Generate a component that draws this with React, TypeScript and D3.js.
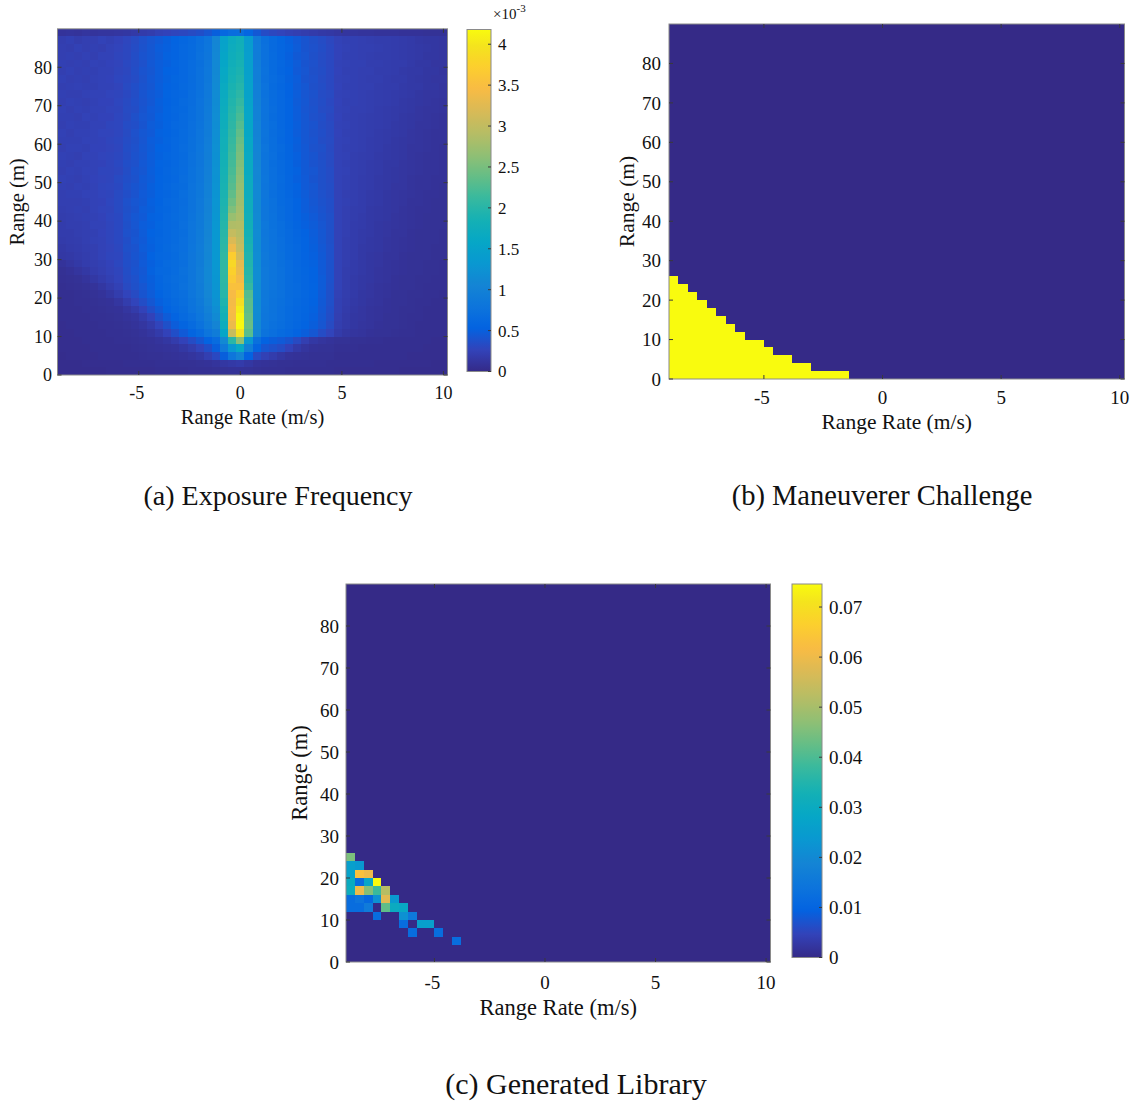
import React from 'react';
import * as d3 from 'd3';

// ---------------- data ----------------
// Range-rate bins: 0.4 m/s wide from -9 to 10.2 (48 bins). Range bins: 2 m wide from 0 to 90 (45 bins).
const RR_MIN = -9;
const RR_STEP = 0.4;
const RR_BINS = 48;
const R_STEP = 2;
const R_BINS = 45;

// (a) Exposure frequency, units of 1e-5, rows listed from the top (88-90 m) down to the bottom (0-2 m)
const exposureRows: number[][] = [
  [10,11,10,12,11,12,12,13,14,16,18,20, 24,26,28,30,33,36,42,50, 60,68,70,58,44, 34,30,27,24,22,20,18,16,15, 13,12,12,11,11,10,10,10,9,9,9,8,8,8],
  [21,23,20,22,22,25,23,26,29,33,38,42, 46,50,54,59,64,71,80,106, 150,170,178,140,90, 72,64,57,51,46,41,37,34,30, 25,23,23,22,21,20,20,19,18,17,15,14,14,13],
  [22,21,24,22,23,22,25,27,30,34,39,43, 48,51,55,60,65,72,81,108, 153,173,181,142,91, 73,64,58,52,47,41,38,35,31, 26,24,23,22,22,21,20,19,18,17,16,15,14,13],
  [22,23,22,24,22,25,25,28,30,35,40,43, 47,52,55,61,65,73,82,109, 156,176,184,143,92, 74,65,58,51,45,42,37,34,31, 26,23,23,22,21,20,20,19,18,17,16,14,14,13],
  [23,22,23,22,25,24,26,27,31,34,38,44, 48,51,56,60,66,72,83,110, 158,179,187,145,93, 73,65,59,52,47,41,38,34,31, 25,24,23,23,21,21,20,19,19,17,15,15,13,13],
  [22,24,22,23,23,25,25,28,30,35,40,43, 48,53,55,61,66,73,84,111, 161,182,190,147,94, 75,65,58,53,46,42,37,35,31, 26,23,23,22,22,20,20,19,17,16,16,14,14,12],
  [24,22,23,22,24,25,26,29,31,34,39,44, 48,52,57,60,67,73,85,112, 163,185,194,148,95, 74,66,60,52,48,41,38,34,31, 25,24,23,22,21,21,19,18,18,16,15,14,13,13],
  [22,23,24,23,23,25,25,27,32,36,40,43, 49,53,56,62,66,74,86,113, 166,189,198,150,96, 76,65,59,53,47,43,37,35,31, 26,23,23,22,22,20,19,19,17,16,16,14,14,12],
  [23,22,22,24,25,25,27,28,31,35,41,45, 48,54,58,61,68,75,87,114, 168,192,203,151,97, 75,67,60,53,48,42,39,34,32, 25,24,23,22,21,20,19,18,17,16,14,13,13,12],
  [22,24,23,22,24,26,26,29,32,36,40,44, 50,53,57,63,68,76,88,115, 170,195,209,153,98, 77,66,60,54,47,43,38,35,31, 26,23,23,22,21,20,19,18,16,15,14,13,12,11],
  [24,22,24,23,25,25,27,28,33,35,41,46, 49,54,59,62,69,77,89,116, 172,198,215,155,99, 76,68,60,54,48,42,39,34,32, 25,24,22,22,21,19,18,17,16,15,13,12,12,11],
  [23,23,22,25,24,26,26,29,32,37,42,45, 51,54,58,64,70,77,90,117, 174,201,222,157,100, 77,67,61,54,48,43,38,36,31, 26,23,22,21,20,19,18,17,15,14,13,12,11,10],
  [22,24,23,23,25,25,28,29,34,36,41,47, 50,55,60,63,71,78,91,118, 176,204,229,158,101, 76,69,60,54,49,43,40,35,32, 25,24,22,21,20,19,18,16,15,14,12,12,11,10],
  [24,22,24,24,25,27,27,29,33,38,43,46, 52,54,59,65,71,79,92,119, 178,207,236,160,102, 78,68,62,55,48,43,39,36,32, 26,23,22,21,20,18,17,16,15,13,12,11,10,10],
  [23,23,23,25,25,26,28,30,34,37,42,48, 51,56,60,65,72,80,93,120, 180,210,242,161,103, 77,70,61,55,50,43,40,35,33, 25,24,22,21,19,18,17,15,14,13,12,11,10,10],
  [22,24,24,23,26,26,27,29,35,38,43,47, 53,55,60,66,72,81,94,121, 181,213,247,163,104, 79,69,63,56,49,44,39,37,32, 25,23,22,21,19,18,16,15,14,12,12,11,10,9],
  [24,23,22,25,25,27,28,30,34,39,42,48, 52,57,61,65,73,82,95,122, 183,216,251,164,105, 78,71,62,56,51,44,41,36,33, 25,24,21,20,19,17,16,15,14,12,11,10,10,9],
  [23,22,24,24,25,26,28,31,36,38,44,48, 54,56,60,67,74,82,96,123, 184,219,255,166,106, 80,70,64,57,50,45,40,37,33, 25,23,21,20,18,17,15,15,13,12,11,10,10,9],
  [22,24,23,25,25,28,28,30,35,40,43,49, 53,58,62,66,75,83,97,124, 186,222,259,167,107, 79,71,63,57,52,45,42,37,34, 25,24,21,20,18,17,15,14,13,12,11,10,10,9],
  [24,23,22,24,26,27,28,32,36,39,45,48, 54,57,61,68,75,83,98,125, 187,226,263,169,108, 81,71,65,58,51,46,41,37,34, 25,23,21,19,18,16,15,14,13,11,10,10,9,9],
  [23,22,24,23,25,28,29,31,37,41,44,50, 54,59,63,67,76,84,99,126, 188,230,267,171,109, 80,72,64,58,53,46,43,37,35, 25,23,21,19,18,16,15,13,13,11,10,10,9,8],
  [22,23,23,25,25,27,28,32,36,40,46,49, 55,58,62,69,77,85,100,127, 190,236,271,173,110, 82,71,65,59,52,47,42,38,35, 25,22,21,19,17,16,14,13,12,11,10,9,9,8],
  [22,22,22,23,25,26,29,32,38,42,45,51, 54,60,64,68,77,86,101,128, 192,244,274,175,111, 81,73,65,60,54,48,43,39,36, 25,23,21,19,17,16,14,13,12,10,10,9,8,8],
  [21,22,23,22,25,27,28,32,37,41,47,50, 56,59,63,70,77,87,102,129, 194,254,278,176,111, 82,73,67,60,54,48,44,40,36, 25,22,20,19,16,15,14,13,11,10,9,9,8,8],
  [20,21,22,23,24,26,29,31,38,43,46,52, 55,60,65,69,78,88,103,130, 196,270,282,178,112, 82,75,67,61,55,50,46,41,37, 25,22,20,18,16,15,14,12,11,10,9,8,8,8],
  [19,21,21,22,25,25,28,31,37,42,48,51, 57,60,64,71,79,88,104,131, 198,286,288,181,113, 84,75,69,62,56,51,47,42,37, 25,22,19,18,16,14,13,12,11,10,9,8,8,8],
  [19,19,21,22,23,26,28,31,38,41,47,53, 56,61,65,70,80,89,105,132, 200,302,292,184,114, 83,76,69,63,58,53,48,43,37, 25,22,19,17,16,14,13,11,11,9,8,8,8,7],
  [18,19,20,22,24,25,28,31,36,42,46,52, 58,60,65,71,80,90,106,132, 202,320,298,187,115, 85,76,71,64,59,54,49,43,37, 25,21,19,17,15,14,12,11,10,9,8,8,8,7],
  [16,18,19,21,22,25,27,30,37,40,47,51, 57,62,66,71,81,91,107,132, 204,337,304,190,115, 84,78,71,65,60,54,50,44,38, 25,21,19,16,15,14,12,11,10,9,8,8,7,7],
  [15,16,18,20,22,25,28,29,36,41,45,53, 59,61,65,72,82,92,108,132, 206,370,314,193,116, 86,78,72,65,60,55,51,45,38, 25,21,19,16,14,13,11,11,9,8,8,8,7,7],
  [10,13,16,19,21,23,26,30,36,39,46,51, 58,63,67,71,82,92,109,132, 206,384,330,196,116, 85,79,72,66,61,56,52,46,39, 25,21,18,16,14,13,11,10,9,8,8,7,7,6],
  [7,9,12,15,19,22,25,28,35,40,44,52, 60,62,66,73,82,93,110,131, 206,374,334,199,117, 87,79,73,66,62,57,53,46,39, 25,20,18,16,14,12,11,10,9,8,8,7,7,6],
  [6,7,8,11,15,19,23,27,34,38,45,50, 58,64,68,72,82,93,110,130, 205,364,342,202,117, 86,80,73,67,62,58,53,47,39, 25,20,17,15,14,12,11,9,8,8,7,7,6,6],
  [5,6,7,8,10,14,19,24,32,37,42,49, 57,62,67,73,82,92,109,129, 203,354,352,210,116, 87,79,74,67,63,58,54,47,38, 25,20,17,15,13,11,10,9,8,8,7,6,6,6],
  [5,5,6,7,8,10,14,20,27,33,41,47, 54,60,66,71,81,91,107,127, 199,344,370,229,116, 85,78,73,67,63,59,54,46,37, 24,20,17,14,13,11,10,8,8,7,7,6,6,5],
  [5,5,6,6,7,8,9,13,20,27,35,43, 51,58,64,70,78,88,104,124, 193,342,390,233,115, 84,77,72,66,62,58,53,45,37, 23,19,16,14,12,11,9,8,8,7,6,6,5,5],
  [5,5,5,6,6,7,8,9,13,18,26,36, 45,54,60,67,76,85,100,119, 187,344,404,235,114, 83,77,71,65,61,57,52,44,36, 23,18,15,13,11,10,9,8,7,7,6,5,5,5],
  [5,5,5,5,6,6,7,8,10,12,18,26, 37,47,55,63,71,81,95,113, 181,342,414,239,113, 82,76,71,65,60,56,51,43,35, 22,17,14,13,11,10,8,8,7,6,6,5,5,5],
  [4,5,5,5,5,6,6,7,8,10,13,18, 27,37,48,56,65,75,89,105, 173,334,416,241,111, 81,74,69,63,59,54,49,42,33, 21,17,14,12,11,9,8,8,7,6,5,5,5,5],
  [4,4,5,5,5,5,6,6,7,8,10,13, 18,26,36,46,56,65,79,92, 158,304,394,231,106, 77,71,65,60,55,49,43,34,27, 18,14,12,11,9,8,8,7,6,6,5,5,5,5],
  [4,4,4,5,5,5,5,6,6,7,8,9, 11,14,19,26,34,43,54,66, 112,202,262,132,72, 53,49,46,41,32,22,15,12,10, 8,8,7,7,6,6,5,5,5,5,5,5,4,4],
  [4,4,4,4,5,5,5,5,5,6,7,8, 9,10,11,15,20,27,36,50, 88,132,162,96,56, 42,38,34,26,17,12,9,8,8, 6,6,6,5,5,5,5,5,5,5,5,4,4,4],
  [3,4,4,4,4,5,5,5,5,5,6,7, 7,8,9,10,12,15,22,31, 50,82,102,53,32, 24,19,14,10,9,8,7,7,7, 5,5,5,5,5,5,5,5,5,4,4,4,4,4],
  [3,3,3,4,4,4,4,4,5,5,5,5, 6,6,6,7,7,8,9,11, 14,16,18,14,10, 9,8,7,7,6,6,6,6,5, 5,5,5,5,5,4,4,4,4,4,4,4,3,3],
  [3,3,3,3,3,3,4,4,4,4,4,4, 5,5,5,5,6,6,6,7, 8,9,9,8,7, 6,6,6,5,5,5,5,5,5, 4,4,4,4,4,4,4,4,3,3,3,3,3,3],
];
const EXPOSURE_UNIT = 1e-5;
const EXPOSURE_MAX = 4.18e-3;

// (b) Maneuverer challenge: number of 2 m range bins flagged (value 1) per range-rate bin, from -9 m/s
const challengeHeights = [13, 12, 11, 10, 9, 8, 7, 6, 5, 5, 4, 3, 3, 2, 2, 1, 1, 1, 1];

// (c) Generated library: non-zero cells (range-rate bin index, range bin index, probability)
const libraryRR = [0, 0, 1, 0, 1, 2, 0, 1, 2, 3, 0, 1, 2, 3, 4, 0, 1, 2, 3, 4, 5, 0, 1, 2, 4, 5, 6, 3, 6, 7, 6, 8, 9, 7, 10, 12];
const libraryR = [12, 11, 11, 10, 10, 10, 9, 9, 9, 9, 8, 8, 8, 8, 8, 7, 7, 7, 7, 7, 7, 6, 6, 6, 6, 6, 6, 5, 5, 5, 4, 4, 4, 3, 3, 2];
const libraryP = [0.045, 0.026, 0.024, 0.027, 0.063, 0.060, 0.030, 0.012, 0.028, 0.0745, 0.031, 0.060, 0.046, 0.038, 0.052,
  0.012, 0.014, 0.011, 0.022, 0.058, 0.024, 0.012, 0.012, 0.016, 0.042, 0.030, 0.029, 0.012, 0.022, 0.015, 0.012, 0.026, 0.026, 0.012, 0.012, 0.012];
const LIBRARY_MAX = 0.0746;

// ticks
const xTicks = [-5, 0, 5, 10];
const yTicks = [0, 10, 20, 30, 40, 50, 60, 70, 80];
const cbTicksA = [0, 0.5, 1, 1.5, 2, 2.5, 3, 3.5, 4];
const cbTicksC = [0, 0.01, 0.02, 0.03, 0.04, 0.05, 0.06, 0.07];

// ---------------- colormap (parula) ----------------
const PARULA_IDX = [0, 4, 8, 12, 16, 20, 24, 28, 32, 36, 40, 44, 48, 52, 56, 60, 63];
const PARULA_RGB = [
  [0.2081, 0.1663, 0.5292], [0.1959, 0.2645, 0.7279], [0.0117, 0.3875, 0.8820], [0.0498, 0.4586, 0.8641],
  [0.0793, 0.5200, 0.8312], [0.0343, 0.5966, 0.8199], [0.0228, 0.6535, 0.7768], [0.0843, 0.6928, 0.7062],
  [0.2178, 0.7250, 0.6193], [0.3953, 0.7459, 0.5244], [0.5709, 0.7485, 0.4494], [0.7184, 0.7411, 0.3905],
  [0.8507, 0.7299, 0.3360], [0.9739, 0.7314, 0.2666], [0.9880, 0.8066, 0.1794], [0.9588, 0.8949, 0.1132],
  [0.9763, 0.9831, 0.0538],
];
const parula = d3.scaleLinear<string>()
  .domain(PARULA_IDX.map(i => i / 63))
  .range(PARULA_RGB.map(c => d3.rgb(c[0] * 255, c[1] * 255, c[2] * 255).formatHex()))
  .interpolate(d3.interpolateRgb)
  .clamp(true);

const FONT = '"Liberation Serif", "Times New Roman", Times, serif';
const AXIS_COLOR = '#8a8a8a';
const TICK_COLOR = '#3a3a3a';

type Box = { x0: number; x1: number; y0: number; y1: number };

function Heatmap(props: {
  box: Box; grid: number[][]; vmax: number; id: string;
  tickFont: number; labelFont: number; xTickY: number; xLabelY: number; yLabelX: number; yTickX: number;
}) {
  const { box, grid, vmax, id, tickFont, labelFont, xTickY, xLabelY, yLabelX, yTickX } = props;
  const x = d3.scaleLinear().domain([RR_MIN, RR_MIN + RR_STEP * RR_BINS]).range([box.x0, box.x1]);
  const y = d3.scaleLinear().domain([0, R_STEP * R_BINS]).range([box.y1, box.y0]);
  const cells: React.ReactNode[] = [];
  grid.forEach((row, r) => {
    row.forEach((v, c) => {
      const xa = x(RR_MIN + RR_STEP * c);
      const xb = x(RR_MIN + RR_STEP * (c + 1));
      const ya = y(R_STEP * (r + 1));
      const yb = y(R_STEP * r);
      cells.push(
        <rect key={`${id}-${r}-${c}`} x={xa} y={ya} width={xb - xa} height={yb - ya}
          fill={parula(v / vmax)} shapeRendering="crispEdges" />
      );
    });
  });
  const tl = 4;
  const cy = (box.y0 + box.y1) / 2;
  return (
    <g>
      {cells}
      <rect x={box.x0} y={box.y0} width={box.x1 - box.x0} height={box.y1 - box.y0}
        fill="none" stroke={AXIS_COLOR} strokeWidth={1} />
      {xTicks.map(t => (
        <g key={`xt${t}`}>
          <line x1={x(t)} x2={x(t)} y1={box.y1} y2={box.y1 - tl} stroke={TICK_COLOR} />
          <line x1={x(t)} x2={x(t)} y1={box.y0} y2={box.y0 + tl} stroke={TICK_COLOR} />
          <text x={x(t) - (t < 0 ? 2 : 0)} y={xTickY} textAnchor="middle" fontFamily={FONT} fontSize={tickFont} fill="#111">{t}</text>
        </g>
      ))}
      {yTicks.map(t => (
        <g key={`yt${t}`}>
          <line x1={box.x0} x2={box.x0 + tl} y1={y(t)} y2={y(t)} stroke={TICK_COLOR} />
          <line x1={box.x1} x2={box.x1 - tl} y1={y(t)} y2={y(t)} stroke={TICK_COLOR} />
          <text x={yTickX} y={y(t)} dy="0.35em" textAnchor="end" fontFamily={FONT} fontSize={tickFont} fill="#111">{t}</text>
        </g>
      ))}
      <text x={(box.x0 + box.x1) / 2} y={xLabelY} textAnchor="middle" fontFamily={FONT} fontSize={labelFont} fill="#111">Range Rate (m/s)</text>
      <text x={yLabelX} y={cy} textAnchor="middle" fontFamily={FONT} fontSize={labelFont} fill="#111"
        transform={`rotate(-90 ${yLabelX} ${cy})`}>Range (m)</text>
    </g>
  );
}

function Colorbar(props: { id: string; x0: number; x1: number; y0: number; y1: number; vmax: number; ticks: number[]; fmt: (v: number) => string; font: number; labelX: number }) {
  const { id, x0, x1, y0, y1, vmax, ticks, fmt, font, labelX } = props;
  const s = d3.scaleLinear().domain([0, vmax]).range([y1, y0]);
  const stops = d3.range(0, 65).map(i => i / 64);
  return (
    <g>
      <defs>
        <linearGradient id={id} x1="0" y1="1" x2="0" y2="0">
          {stops.map(p => <stop key={p} offset={p} stopColor={parula(p)} />)}
        </linearGradient>
      </defs>
      <rect x={x0} y={y0} width={x1 - x0} height={y1 - y0} fill={`url(#${id})`} stroke={AXIS_COLOR} strokeWidth={1} />
      {ticks.map(t => (
        <g key={`${id}${t}`}>
          <line x1={x1} x2={x1 - 3} y1={s(t)} y2={s(t)} stroke={TICK_COLOR} />
          <text x={labelX} y={s(t)} dy="0.35em" fontFamily={FONT} fontSize={font} fill="#111">{fmt(t)}</text>
        </g>
      ))}
    </g>
  );
}

export default function App() {
  // grids bottom-first
  const gridA = exposureRows.slice().reverse().map(row => row.map(v => v * EXPOSURE_UNIT));
  const gridB: number[][] = d3.range(R_BINS).map(r => d3.range(RR_BINS).map(c => (c < challengeHeights.length && r < challengeHeights[c] ? 1 : 0)));
  const gridC: number[][] = d3.range(R_BINS).map(() => d3.range(RR_BINS).map(() => 0));
  libraryRR.forEach((c, i) => { gridC[libraryR[i]][c] = libraryP[i]; });
  const bad = exposureRows.some(r => r.length !== RR_BINS) || exposureRows.length !== R_BINS;

  return (
    <svg width={1132} height={1104} style={{ position: 'absolute', left: 0, top: 0, background: '#fff' }}>
      <rect x={0} y={0} width={1132} height={1104} fill="#fff" />
      {/* (a) */}
      <Heatmap id="a" box={{ x0: 57.5, x1: 447.5, y0: 28.8, y1: 375 }} grid={gridA} vmax={EXPOSURE_MAX}
        tickFont={18} labelFont={20.5} xTickY={399} xLabelY={424} yLabelX={24} yTickX={52} />
      <Colorbar id="cbA" x0={467} x1={491} y0={29.5} y1={371.5} vmax={EXPOSURE_MAX * 1000} ticks={cbTicksA}
        fmt={v => String(v)} font={17} labelX={498} />
      <text x={493} y={19} fontFamily={FONT} fontSize={15} fill="#111">×10<tspan dy={-7} fontSize={11}>-3</tspan></text>
      <text x={278} y={505} textAnchor="middle" fontFamily={FONT} fontSize={28} fill="#111">(a) Exposure Frequency</text>

      {/* (b) */}
      <Heatmap id="b" box={{ x0: 669, x1: 1124.5, y0: 24, y1: 379 }} grid={gridB} vmax={1}
        tickFont={19} labelFont={21.5} xTickY={403.5} xLabelY={429} yLabelX={634} yTickX={661} />
      <text x={882} y={505} textAnchor="middle" fontFamily={FONT} fontSize={28.5} fill="#111">(b) Maneuverer Challenge</text>

      {/* (c) */}
      <Heatmap id="c" box={{ x0: 346, x1: 770.5, y0: 584, y1: 962 }} grid={gridC} vmax={LIBRARY_MAX}
        tickFont={19} labelFont={22.5} xTickY={988.5} xLabelY={1015} yLabelX={307} yTickX={339} />
      <Colorbar id="cbC" x0={792} x1={822} y0={584} y1={957.5} vmax={LIBRARY_MAX} ticks={cbTicksC}
        fmt={v => (v === 0 ? '0' : v.toFixed(2))} font={19} labelX={829} />
      <text x={576} y={1094} textAnchor="middle" fontFamily={FONT} fontSize={30} fill="#111">(c) Generated Library</text>
      {bad && <text x={600} y={700} fill="red" fontSize={30}>BAD GRID</text>}
    </svg>
  );
}
